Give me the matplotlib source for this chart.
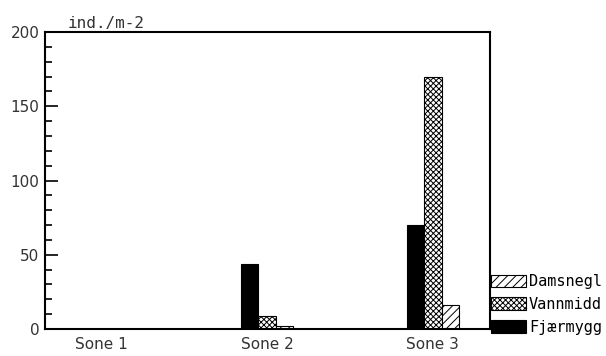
import matplotlib.pyplot as plt
import numpy as np
from matplotlib.ticker import MultipleLocator

soner = ['Sone 1', 'Sone 2', 'Sone 3']
fjaermygg = [0, 44, 70]
vannmidd = [0, 9, 170]
damsnegl = [0, 2, 16]

plt.rcParams['hatch.linewidth'] = 0.7

fig = plt.figure(figsize=(6.06, 3.56), dpi=100)
ax = fig.add_axes([0.0743, 0.0758, 0.734, 0.834])

x = np.arange(len(soner))
w = 0.105
b1 = ax.bar(x - w, fjaermygg, w, color='black', edgecolor='black', linewidth=0.8)
b2 = ax.bar(x, vannmidd, w, color='white', edgecolor='black', hatch='xxxxxx', linewidth=0.8)
b3 = ax.bar(x + w, damsnegl, w, color='white', edgecolor='black', hatch='////', linewidth=0.8)

ax.set_xlim(-0.337, 2.343)
ax.set_ylim(0, 200)
ax.set_xticks(x)
ax.set_xticklabels(soner, fontsize=11, color='#333333')
ax.tick_params(axis='x', length=0, pad=6)
ax.set_yticks([0, 50, 100, 150, 200])
ax.yaxis.set_minor_locator(MultipleLocator(10))
ax.tick_params(axis='y', which='major', direction='in', length=9, width=1.2, labelsize=11, labelcolor='#333333', pad=4)
ax.tick_params(axis='y', which='minor', direction='in', length=5, width=1.2)
for s in ax.spines.values():
    s.set_linewidth(1.5)

ax.text(0.05, 1.003, 'ind./m-2', transform=ax.transAxes, family='DejaVu Sans Mono',
        fontsize=11.5, ha='left', va='bottom', color='#333333')

leg = fig.legend([b3, b2, b1], ['Damsnegl', 'Vannmidd', 'Fjærmygg'],
                 loc='lower left', bbox_to_anchor=(0.81, 0.06), frameon=False,
                 prop={'family': 'DejaVu Sans Mono', 'size': 11},
                 handlelength=2.3, handleheight=0.9, handletextpad=0.2,
                 labelspacing=0.5, borderpad=0, borderaxespad=0)

fig.savefig('out.png', dpi=100)
